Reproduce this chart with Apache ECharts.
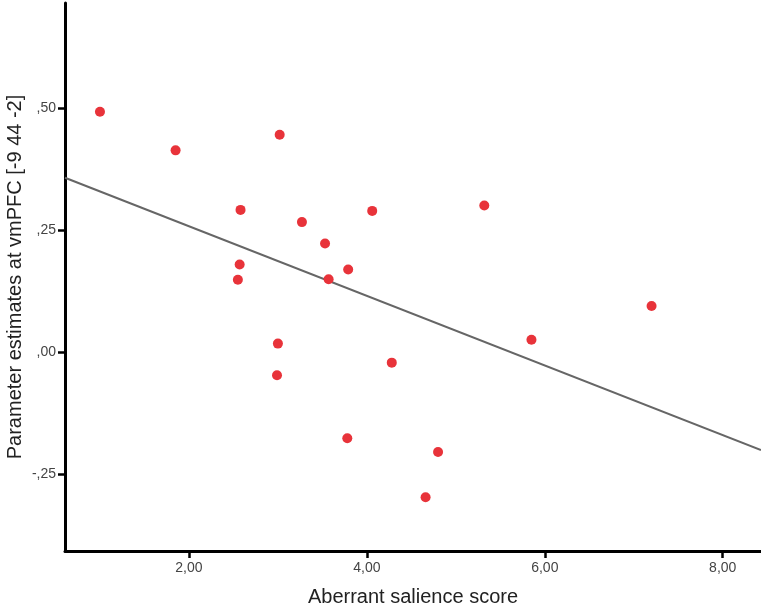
<!DOCTYPE html>
<html>
<head>
<meta charset="utf-8">
<script src="https://cdn.jsdelivr.net/npm/echarts@6/dist/echarts.min.js"></script>
<style>
  html, body { margin: 0; padding: 0; background: #fff; }
  #chart { width: 761px; height: 606px; }
</style>
</head>
<body>
<div id="chart"></div>
<script>
// aberrant salience score per subject
const salienceScores = [1.00, 1.85, 3.02, 2.58, 3.27, 4.06, 5.32, 3.53, 2.57, 2.55,
  3.79, 3.57, 7.20, 5.85, 3.00, 2.99, 4.28, 3.78, 4.80, 4.66];
// parameter estimates at vmPFC [-9 44 -2]
const vmpfcEstimates = [0.492, 0.413, 0.445, 0.291, 0.266, 0.289, 0.300, 0.222, 0.179, 0.148,
  0.169, 0.149, 0.094, 0.025, 0.017, -0.048, -0.022, -0.177, -0.205, -0.298];
// fit line end points (x, y)
const fitX = [0.607, 8.43];
const fitY = [0.357, -0.201];

const xTicks = [2, 4, 6, 8];
const yTicks = [-0.25, 0, 0.25, 0.5];

const chart = echarts.init(document.getElementById('chart'));

const fmtY = (v) => {
  let s = Math.abs(v).toFixed(2).replace('.', ',').replace(/^0/, '');
  return (v < 0 ? '-' : '') + s;
};

chart.setOption({
  backgroundColor: '#fff',
  animation: false,
  grid: { left: 65, top: 3, right: 0, bottom: 55, outerBoundsMode: 'none' },
  xAxis: {
    type: 'value',
    min: 0.607,
    max: 8.43,
    name: 'Aberrant salience score',
    nameLocation: 'middle',
    nameGap: 36,
    nameMoveOverlap: false,
    nameTextStyle: { fontFamily: 'Liberation Sans', fontSize: 20, color: '#222' },
    splitLine: { show: false },
    axisLine: { onZero: false, lineStyle: { color: '#000', width: 3 } },
    axisTick: { show: true, inside: false, customValues: xTicks, length: 7, lineStyle: { color: '#000', width: 2.5 } },
    axisLabel: {
      customValues: xTicks,
      formatter: (v) => v.toFixed(2).replace('.', ','),
      fontFamily: 'Liberation Sans', fontSize: 14, color: '#444', margin: 10
    }
  },
  yAxis: {
    type: 'value',
    min: -0.408,
    max: 0.715,
    name: 'Parameter estimates at vmPFC [-9 44 -2]',
    nameLocation: 'middle',
    nameGap: 40,
    nameMoveOverlap: false,
    nameTextStyle: { fontFamily: 'Liberation Sans', fontSize: 20, color: '#222' },
    splitLine: { show: false },
    axisLine: { onZero: false, lineStyle: { color: '#000', width: 3 } },
    axisTick: { show: true, inside: false, customValues: yTicks, length: 7, lineStyle: { color: '#000', width: 2.5 } },
    axisLabel: {
      customValues: yTicks,
      formatter: fmtY,
      fontFamily: 'Liberation Sans', fontSize: 14, color: '#444', margin: 9
    }
  },
  series: [
    {
      type: 'line',
      data: fitX.map((x, i) => [x, fitY[i]]),
      showSymbol: false,
      lineStyle: { color: '#666', width: 2 },
      z: 1
    },
    {
      type: 'scatter',
      data: salienceScores.map((x, i) => [x, vmpfcEstimates[i]]),
      symbolSize: 10,
      itemStyle: { color: '#e8333a', opacity: 1 },
      z: 2
    }
  ]
});
</script>
</body>
</html>
